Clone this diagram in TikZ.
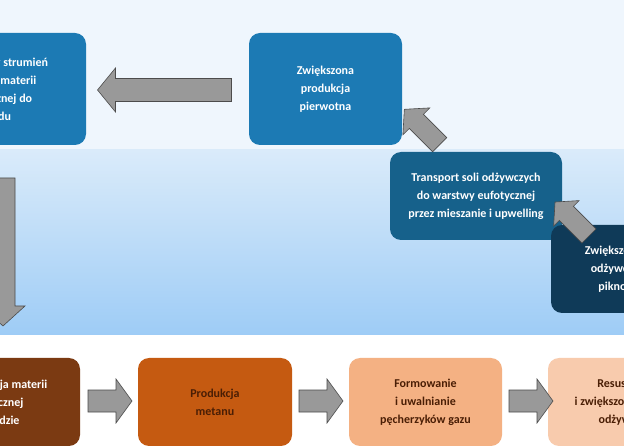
\documentclass[tikz,border=0pt]{standalone}
\usepackage{fontspec}
\setmainfont{Carlito}
\definecolor{bA}{HTML}{1C7AB4}
\definecolor{bC}{HTML}{16618B}
\definecolor{bD}{HTML}{0F3A58}
\definecolor{oE}{HTML}{7B3A12}
\definecolor{oF}{HTML}{C55A11}
\definecolor{oG}{HTML}{F4B183}
\definecolor{oH}{HTML}{F8CBAD}
\definecolor{tx}{HTML}{4A1E05}
% #1 center, #2 angle, #3 half length, #4 half shaft, #5 half head, #6 head length
\newcommand{\fatarr}[6]{%
  \begin{scope}[shift={#1},rotate=#2]
  \filldraw[fat] (-#3,-#4) -- (#3-#6,-#4) -- (#3-#6,-#5) -- (#3,0) -- (#3-#6,#5) -- (#3-#6,#4) -- (-#3,#4) -- cycle;
  \end{scope}}
\begin{document}
\begin{tikzpicture}[x=1pt,y=-1pt,
  box/.style={rounded corners=11pt,align=center,inner sep=2pt,font=\fontsize{12}{18}\selectfont\bfseries},
  blue/.style={box,fill=#1,text=white},
  org/.style={box,fill=#1,text=tx},
  fat/.style={draw=gray!60!black,fill=gray!80,line width=0.6pt}]
\useasboundingbox (0,0) rectangle (624,446);
\clip (0,0) rectangle (624,446);
\fill[white] (0,0) rectangle (624,446);
\fill[color={rgb,255:red,239;green,246;blue,253}] (0,0) rectangle (624,150);
\shade[top color={rgb,255:red,218;green,235;blue,250},bottom color={rgb,255:red,158;green,204;blue,246}] (0,150) rectangle (624,335);
% top row
\node[blue=bA,minimum width=180pt,minimum height=112pt] (a) at (-4,89) {Zwiększony strumień\\martwej materii\\organicznej do\\osadu};
\node[blue=bA,minimum width=153pt,minimum height=112pt] (b) at (325.5,89) {Zwiększona\\produkcja\\pierwotna};
\node[blue=bC,minimum width=172pt,minimum height=88pt] (c) at (476,196) {Transport soli odżywczych\\do warstwy eufotycznej\\przez mieszanie i upwelling};
\node[blue=bD,minimum width=150pt,minimum height=88pt] (d) at (626,269) {Zwiększona ilość\\odżywczych w\\piknoklinie};
% bottom row
\node[org=oE,minimum width=170pt,minimum height=88pt,text=white] (e) at (-5,402) {Mineralizacja materii\\organicznej\\w osadzie};
\node[org=oF,minimum width=154pt,minimum height=88pt] (f) at (215,402) {Produkcja\\metanu};
\node[org=oG,minimum width=153pt,minimum height=88pt] (g) at (425.5,402) {Formowanie\\i uwalnianie\\pęcherzyków gazu};
\node[org=oH,minimum width=160pt,minimum height=88pt] (h) at (628,402) {Resuspensja\\i zwiększona ilość soli\\odżywczych};
% arrows
\fatarr{(164.5,90)}{180}{67}{11.5}{22}{18}
\fatarr{(422,127)}{135}{25}{10}{19}{17}
\fatarr{(572,219)}{135}{24}{10}{18}{16}
\fatarr{(3,252)}{-90}{74}{12}{22}{20}
\fatarr{(110,401)}{0}{22}{11}{22}{16}
\fatarr{(321,401)}{0}{22}{11}{22}{16}
\fatarr{(531,401)}{0}{22}{11}{22}{16}
\end{tikzpicture}
\end{document}
